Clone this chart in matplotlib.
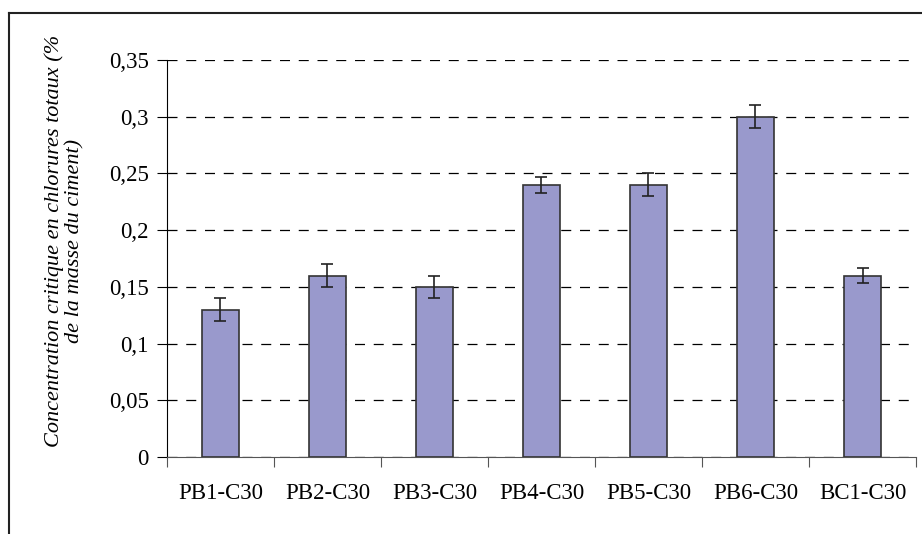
import matplotlib.pyplot as plt
from matplotlib.lines import Line2D
import numpy as np

# data
categories = ['PB1-C30', 'PB2-C30', 'PB3-C30', 'PB4-C30', 'PB5-C30', 'PB6-C30', 'BC1-C30']
values = [0.13, 0.16, 0.15, 0.24, 0.24, 0.30, 0.16]
errors = [0.01, 0.01, 0.01, 0.007, 0.01, 0.01, 0.007]
yticks = [0, 0.05, 0.1, 0.15, 0.2, 0.25, 0.3, 0.35]
ytick_labels = ['0', '0,05', '0,1', '0,15', '0,2', '0,25', '0,3', '0,35']

plt.rcParams['font.family'] = ['Liberation Serif', 'DejaVu Serif']

fig = plt.figure(figsize=(9.22, 5.34), dpi=100)
ax = fig.add_axes([0.1811, 0.1442, 0.8124, 0.7434])

x = np.arange(len(categories))
ax.bar(x, values, width=0.35, color='#9999cc', edgecolor='#333333', linewidth=1.2, zorder=3)
ax.errorbar(x, values, yerr=errors, fmt='none', ecolor='#222222', elinewidth=1.2,
            capsize=4, capthick=1.2, zorder=4)

ax.set_ylim(0, 0.35)
ax.set_xlim(-0.5, len(categories) - 0.5)
ax.set_yticks(yticks)
ax.set_yticklabels(ytick_labels, fontsize=16.5)
ax.yaxis.grid(True, linestyle=(0, (8, 7)), color='black', linewidth=0.9)
ax.set_axisbelow(True)

# ticks between categories, labels at centres
ax.set_xticks(np.arange(-0.5, len(categories), 1.0))
ax.set_xticklabels([])
ax.set_xticks(x, minor=True)
ax.set_xticklabels(categories, minor=True, fontsize=16.5)
ax.tick_params(axis='x', which='major', length=7, color='#555555')
ax.tick_params(axis='x', which='minor', length=0, pad=19)
ax.tick_params(axis='y', length=7, pad=6)

for s in ['top', 'right']:
    ax.spines[s].set_visible(False)
ax.spines['bottom'].set_color('#555555')
ax.spines['left'].set_color('black')

ax.set_ylabel('Concentration critique en chlorures totaux (%\nde la masse du ciment)',
              fontsize=16, style='italic', linespacing=1.15)
ax.yaxis.set_label_coords(-0.1095, 0.544)

# outer frame (cropped at right and bottom)
fig.add_artist(Line2D([9 / 922, 1.0], [1 - 13 / 534, 1 - 13 / 534], color='#222222', linewidth=1.5))
fig.add_artist(Line2D([9 / 922, 9 / 922], [0.0, 1 - 13 / 534], color='#222222', linewidth=1.5))

fig.savefig('out.png', dpi=100)
